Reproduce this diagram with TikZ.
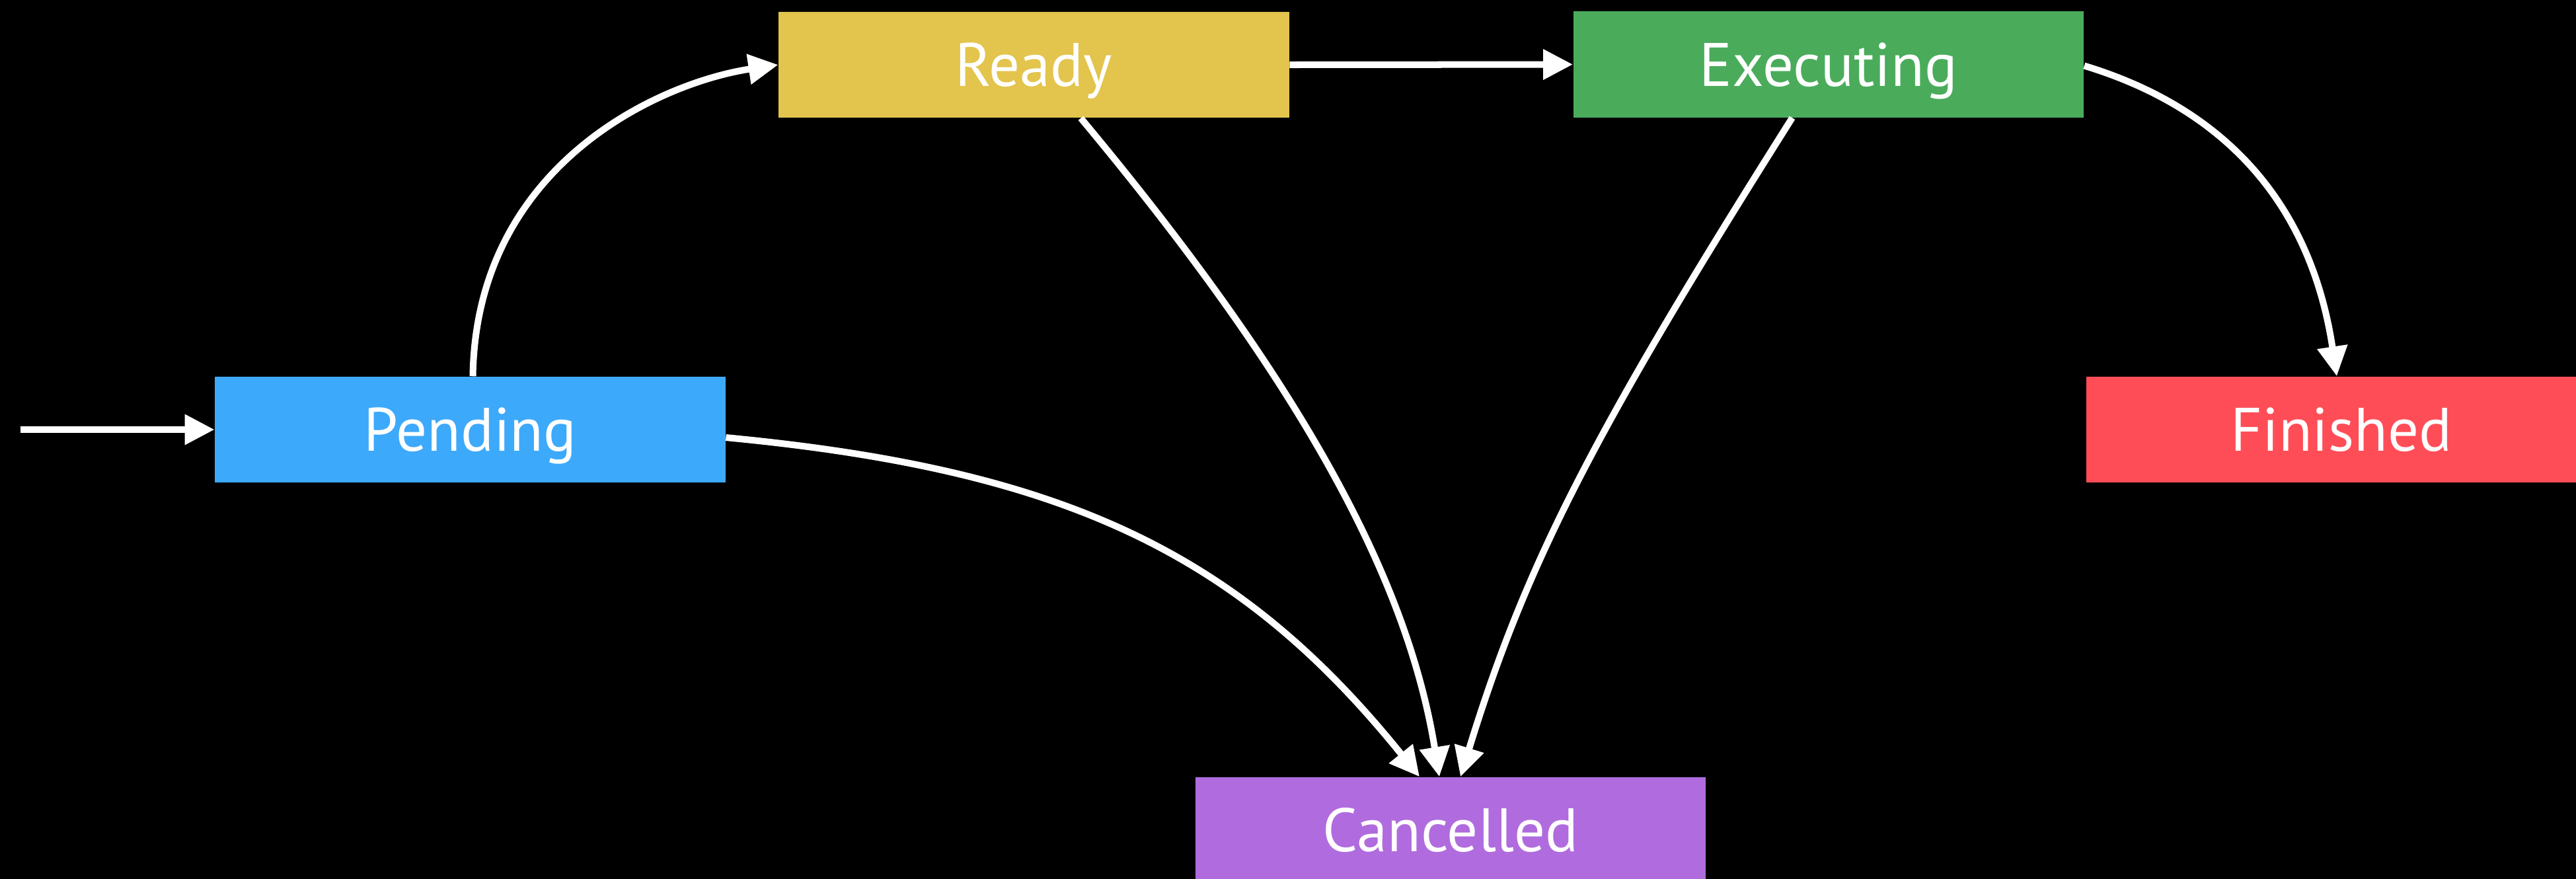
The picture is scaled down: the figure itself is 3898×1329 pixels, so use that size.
\documentclass[tikz,border=0pt]{standalone}
\usepackage{fontspec}
\setmainfont{PT Sans}
\usetikzlibrary{arrows.meta,calc}
\definecolor{cpend}{HTML}{3DA9FB}
\definecolor{cready}{HTML}{E3C44C}
\definecolor{cexec}{HTML}{4AAC5B}
\definecolor{cfin}{HTML}{FF4D57}
\definecolor{ccanc}{HTML}{B06CDE}
\begin{document}
\begin{tikzpicture}[x=0.01cm,y=-0.01cm,
  state/.style={draw=none, minimum width=7.72cm, minimum height=1.6cm, inner sep=0pt,
    text=white, font=\fontsize{26.4}{30}\selectfont, text height=0.65cm, text depth=0pt},
  conn/.style={white, line width=0.1cm, -{Triangle[length=0.45cm,width=0.44cm]}}]
\useasboundingbox (0,0) rectangle (3898,1329);
\fill[black] (-20,-20) rectangle (3918,1349);
\node[state, fill=cpend]  (pend)  at (711.5,650) {Pending};
\node[state, fill=cready] (ready) at (1564.5,98) {Ready};
\node[state, fill=cexec]  (exec)  at (2767,97.5) {Executing};
\node[state, fill=cfin]   (fin)   at (3543,650) {Finished};
\node[state, fill=ccanc]  (canc)  at (2195,1256) {Cancelled};
\coordinate (start) at (31,650);
\draw[conn] (start) -- (pend.west);
\draw[conn] (ready.east) -- (exec.west);
\draw[conn] ($(pend.north)+(4,0)$) .. controls +(5,-320) and +(-179,27) .. (ready.west);
\draw[conn] ($(pend.east)+(0,12)$) .. controls +(516,49) and +(-272,-337) .. ($(canc.north)+(-47,0)$);
\draw[conn] ($(ready.south)+(71,0)$) .. controls +(331,397) and +(-49,-303) .. ($(canc.north)+(-17,0)$);
\draw[conn] ($(exec.south)+(-55,0)$) .. controls +(-302,478) and +(99,-322) .. ($(canc.north)+(15,0)$);
\draw[conn] ($(exec.east)+(0,2)$) .. controls +(221,67) and +(-38,-253) .. ($(fin.north)+(-7,0)$);
\end{tikzpicture}
\end{document}
